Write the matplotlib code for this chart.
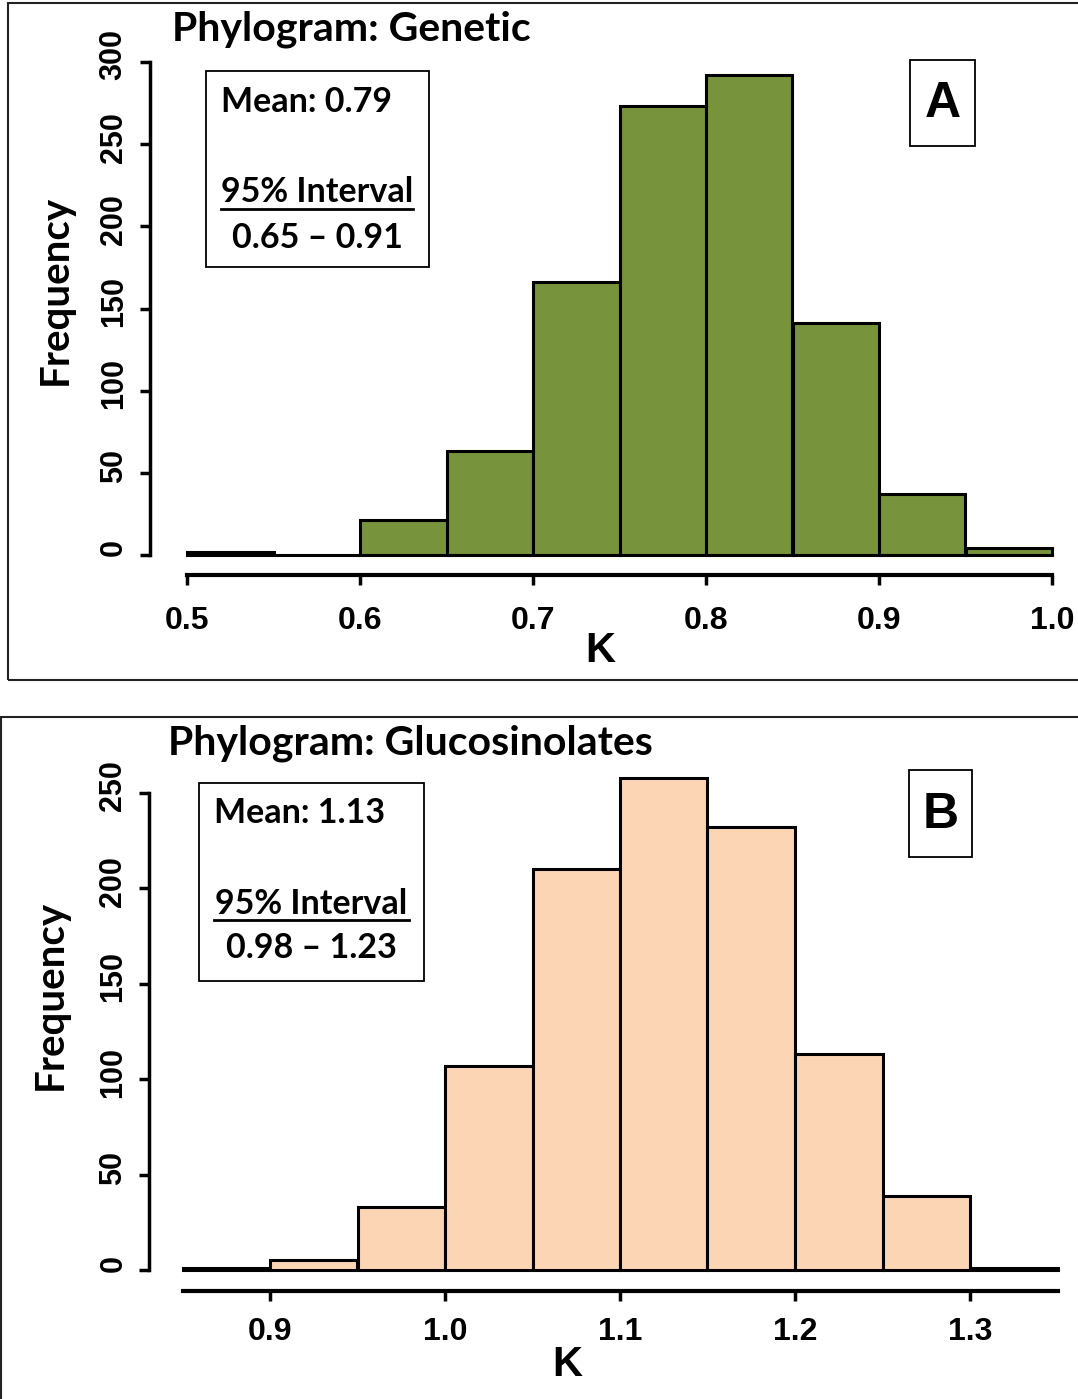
import matplotlib
matplotlib.use('Agg')
import matplotlib.pyplot as plt
import matplotlib.transforms as mtransforms
from matplotlib.patches import Rectangle
from matplotlib.lines import Line2D

# panel A: genetic
gen_edges = [0.50, 0.55, 0.60, 0.65, 0.70, 0.75, 0.80, 0.85, 0.90, 0.95, 1.00]
gen_counts = [2, 0, 21, 63, 166, 273, 292, 141, 37, 4]
gen_ticks = [0.5, 0.6, 0.7, 0.8, 0.9, 1.0]

# panel B: glucosinolates
glu_edges = [0.85, 0.90, 0.95, 1.00, 1.05, 1.10, 1.15, 1.20, 1.25, 1.30, 1.35]
glu_counts = [1, 5, 33, 107, 210, 258, 232, 113, 39, 1]
glu_ticks = [0.9, 1.0, 1.1, 1.2, 1.3]

W, H = 1078, 1399
fig = plt.figure(figsize=(W / 100, H / 100), dpi=100)

CAL = ['Lato', 'DejaVu Sans']
ARI = ['Liberation Sans', 'DejaVu Sans']


def fx(x):
    return x / W


def fy(y):
    return 1 - y / H


def hist_panel(rect_px, edges, counts, xticks, yticks, color, out_left, out_bottom, xpad):
    l, r, t, b = rect_px
    ax = fig.add_axes([fx(l), fy(b), fx(r) - fx(l), fy(t) - fy(b)])
    widths = [edges[i + 1] - edges[i] for i in range(len(counts))]
    ax.bar(edges[:-1], counts, width=widths, align='edge', color=color,
           edgecolor='black', linewidth=2.2, clip_on=False)
    ax.set_xlim(edges[0], edges[-1])
    ax.set_ylim(yticks[0], yticks[-1])
    for s in ['top', 'right']:
        ax.spines[s].set_visible(False)
    ax.spines['left'].set_position(('outward', out_left))
    ax.spines['bottom'].set_position(('outward', out_bottom))
    ax.spines['left'].set_bounds(yticks[0], yticks[-1])
    ax.spines['bottom'].set_bounds(edges[0], edges[-1])
    ax.spines['left'].set_linewidth(2.5)
    ax.spines['bottom'].set_linewidth(3)
    ax.set_xticks(xticks)
    ax.set_xticklabels(['%.1f' % v for v in xticks])
    ax.set_yticks(yticks)
    ax.set_yticklabels([str(v) for v in yticks], rotation=90, va='center')
    ax.tick_params(axis='x', length=7, width=2.5, pad=xpad, labelsize=23)
    ax.tick_params(axis='y', length=7, width=2.5, pad=8, labelsize=22)
    for lab in ax.get_xticklabels() + ax.get_yticklabels():
        lab.set_family(ARI)
        lab.set_fontweight('bold')
    # R draws these rotated labels a little above their ticks
    shift = mtransforms.ScaledTranslation(0, 0.07, fig.dpi_scale_trans)
    for tk in ax.yaxis.get_major_ticks():
        tk.label1.set_transform(tk.label1.get_transform() + shift)
    ax.patch.set_visible(False)
    return ax


def frame(x0, y0, x1, y1, lw=1.5, color='#222222'):
    fig.patches.append(Rectangle((fx(x0), fy(y1)), fx(x1) - fx(x0), fy(y0) - fy(y1),
                                 fill=False, edgecolor=color, linewidth=lw,
                                 transform=fig.transFigure, figure=fig))


def stat_box(box, mean_txt, interval_txt, mean_xy, int_xy, ul, rng_xy):
    frame(*box, lw=1.3, color='black')
    fig.text(fx(mean_xy[0]), fy(mean_xy[1]), mean_txt, family=CAL, fontweight='bold',
             fontsize=24.5, ha='left', va='center')
    fig.text(fx(int_xy[0]), fy(int_xy[1]), '95% Interval', family=CAL, fontweight='bold',
             fontsize=24.5, ha='center', va='center')
    fig.lines.append(Line2D([fx(ul[0]), fx(ul[1])], [fy(ul[2]), fy(ul[2])], color='black',
                            linewidth=2, transform=fig.transFigure, figure=fig))
    fig.text(fx(rng_xy[0]), fy(rng_xy[1]), interval_txt, family=CAL, fontweight='bold',
             fontsize=24.5, ha='center', va='center')


# ---- panel A ----
frame(8, 3, 1090, 680)
hist_panel((187, 1052, 62, 555), gen_edges, gen_counts, gen_ticks,
           [0, 50, 100, 150, 200, 250, 300], '#77933C', 27, 14.5, 15)
fig.text(fx(172), fy(29), 'Phylogram: Genetic', family=CAL, fontweight='bold',
         fontsize=29.5, ha='left', va='center')
fig.text(fx(55), fy(290), 'Frequency', family=CAL, fontweight='bold', fontsize=29,
         rotation=90, ha='center', va='center')
fig.text(fx(600), fy(651), 'K', family=ARI, fontweight='bold', fontsize=30,
         ha='center', va='center')
stat_box((206, 71, 429, 267), 'Mean: 0.79', '0.65 \u2013 0.91',
         (221, 102), (317, 192), (221, 413, 209), (317, 238))
frame(910, 60, 975, 146, lw=1.3, color='black')
fig.text(fx(942.5), fy(104), 'A', family=ARI, fontweight='bold', fontsize=36,
         ha='center', va='center')

# ---- panel B ----
frame(1, 717, 1090, 1410)
hist_panel((182.5, 1057.5, 793, 1270), glu_edges, glu_counts, glu_ticks,
           [0, 50, 100, 150, 200, 250], '#FCD5B5', 24, 15, 12)
fig.text(fx(168), fy(743), 'Phylogram: Glucosinolates', family=CAL, fontweight='bold',
         fontsize=29.5, ha='left', va='center')
fig.text(fx(50), fy(995), 'Frequency', family=CAL, fontweight='bold', fontsize=29,
         rotation=90, ha='center', va='center')
fig.text(fx(567), fy(1365), 'K', family=ARI, fontweight='bold', fontsize=30,
         ha='center', va='center')
stat_box((199, 783, 424, 981), 'Mean: 1.13', '0.98 \u2013 1.23',
         (214, 813), (311, 904), (214, 409, 920), (311, 948))
frame(909, 770, 972, 857, lw=1.3, color='black')
fig.text(fx(940.5), fy(815), 'B', family=ARI, fontweight='bold', fontsize=36,
         ha='center', va='center')

fig.savefig('out.png', dpi=100)
